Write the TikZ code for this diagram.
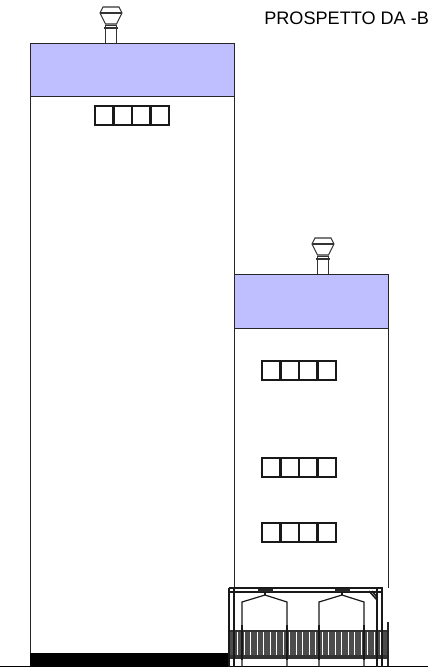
\documentclass[tikz,border=0pt]{standalone}
\usepackage{fontspec}
\setmainfont{Liberation Sans}
\definecolor{roofblue}{RGB}{191,191,255}
\tikzset{
  wall/.style={draw=black!85,line width=0.17mm},
  roofband/.style={wall,fill=roofblue},
  glazing/.style={draw=black!90,line width=0.5mm},
  thinline/.style={draw=black!90,line width=0.24mm},
  pipeline/.style={draw=black!80,line width=0.22mm}
}
\newcommand{\windowrow}[2]{%
  \draw[glazing] (#1,#2) rectangle ++(74,19);
  \foreach \p in {1,2,3}
    \draw[glazing] ({#1+18.5*\p},#2) -- ++(0,19);
}
\newcommand{\ventpipe}[3]{%
  \draw[pipeline] ({#1-5.5},#3) -- ({#1-5.5},{#2+18}) ({#1+5.5},#3) -- ({#1+5.5},{#2+18});
  \draw[pipeline] ({#1-8},#2) -- ({#1+8},#2) -- ({#1+11},{#2+6}) -- ({#1+5.5},{#2+17}) -- ({#1-5.5},{#2+17}) -- ({#1-11},{#2+6}) -- cycle;
  \draw[pipeline] ({#1-11},{#2+6}) -- ({#1+11},{#2+6});
  \draw[pipeline,line width=0.3mm] ({#1-5.5},{#2+18.5}) -- ({#1+5.5},{#2+18.5});
  \draw[pipeline] ({#1-7},{#2+21}) -- ({#1+7},{#2+21});
}
\newcommand{\porcharch}[1]{%
  \draw[thinline] ({#1-23},667) -- ({#1-23},602) -- (#1,595) -- ({#1+22},602) -- ({#1+22},667);
  \draw[thinline,line width=0.35mm] ({#1-23},625) -- ({#1-23},660) ({#1+22},625) -- ({#1+22},660);
  \draw[thinline] (#1,592) -- (#1,595);
  \fill[black!85] ({#1-7},588.5) rectangle ({#1+8},592);
}
\begin{document}
\begin{tikzpicture}[x=0.02cm,y=-0.02cm]
\useasboundingbox (0,0) rectangle (428,667);
\fill[white] (0,0) rectangle (428,667);
% walls
\draw[wall] (30,654) -- (30,43) -- (234,43) -- (234,274) -- (388.5,274) -- (388.5,588);
\draw[roofband] (30,43) rectangle (234,96);
\draw[roofband] (234,274) rectangle (388.5,328);
\draw[wall] (234,328) -- (234,588);
% windows
\windowrow{95}{106}
\windowrow{262}{361}
\windowrow{262}{458}
\windowrow{262}{523}
% vents
\ventpipe{111}{7}{43}
\ventpipe{323}{238}{274}
% ground
\fill[black] (30,653) rectangle (230,666);
\draw[draw=black,line width=0.2mm] (0,666.3) -- (428,666.3);
% railing
\foreach \x in {230,232,...,386}
  \draw[draw=black!70,line width=0.29mm] (\x,631) -- (\x,655);
\foreach \x in {237,243.5,...,385}
  \fill[white] (\x,632) rectangle ++(1.2,23);
\draw[draw=black!80,line width=0.3mm] (229,631) -- (387,631);
\fill[black!80] (229,655) rectangle (387,659);
% porch
\draw[thinline] (229,588) -- (383,588);
\draw[thinline,line width=0.3mm] (229,592) -- (383,592);
\foreach \x in {229,234,377,382}
  \draw[thinline] (\x,588) -- (\x,667);
\draw[thinline,line width=0.3mm] (369,591) -- (377,600) (372,591) -- (377,597);
\porcharch{265}
\porcharch{342}
\draw[draw=black!85,line width=0.4mm] (388,622) -- (388,666);
% title
\node[anchor=base west,inner sep=0pt,font=\fontsize{10.3pt}{12pt}\selectfont] (title) at (264,24) {PROSPETTO DA -B};
\end{tikzpicture}
\end{document}
